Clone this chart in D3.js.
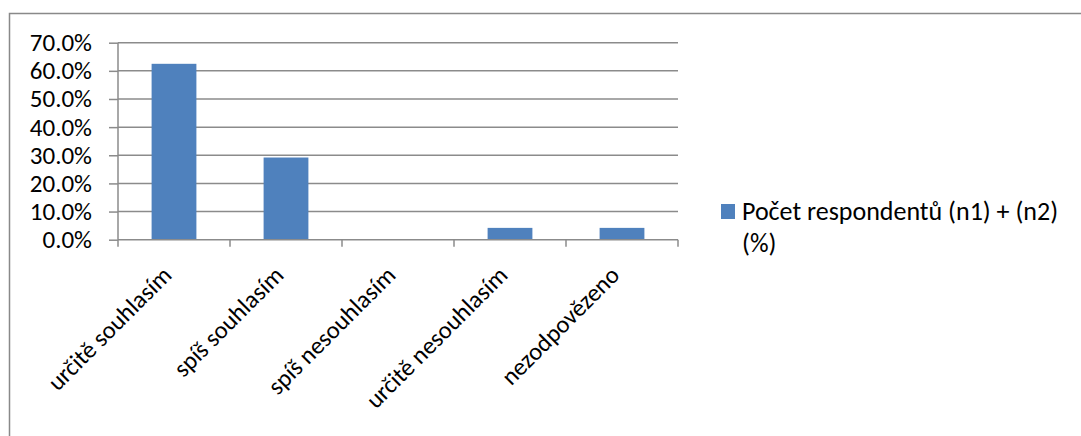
<!DOCTYPE html>
<html>
<head>
<meta charset="utf-8">
<script src="https://cdn.jsdelivr.net/npm/d3@7"></script>
<style>
  html, body { margin: 0; padding: 0; background: #fff; }
  svg { display: block; }
  text { font-family: Carlito, Calibri, Lato, sans-serif; fill: #000; }
</style>
</head>
<body>
<script>
// Survey answers and share of respondents (%)
const categories = ["určitě souhlasím", "spíš souhlasím", "spíš nesouhlasím", "určitě nesouhlasím", "nezodpovězeno"];
const values = [62.5, 29.2, 0, 4.2, 4.2];
const yTicks = [0, 10, 20, 30, 40, 50, 60, 70];
const seriesName = ["Počet respondentů (n1) + (n2)", "(%)"];

const W = 1081, H = 436;
const svg = d3.select("body").append("svg").attr("width", W).attr("height", H);

svg.append("rect").attr("width", W).attr("height", H).attr("fill", "#fff");

// chart frame (open to the right and bottom)
svg.append("rect")
  .attr("x", 9.5).attr("y", 13.5)
  .attr("width", W + 20).attr("height", H + 20)
  .attr("fill", "none").attr("stroke", "#898989").attr("stroke-width", 1.5);

const x = d3.scaleBand().domain(categories).range([118, 678]).paddingInner(0.6).paddingOuter(0.3);
const xb = d3.scaleBand().domain(categories).range([118, 678]);
const y = d3.scaleLinear().domain([0, 70]).range([239.7, 42.7]);

const grey = "#8b8b8b";

// horizontal gridlines
svg.append("g").selectAll("line").data(yTicks.slice(1)).join("line")
  .attr("x1", 118).attr("x2", 678)
  .attr("y1", d => y(d)).attr("y2", d => y(d))
  .attr("stroke", grey).attr("stroke-width", 1.5);

// bars
svg.append("g").selectAll("rect").data(values).join("rect")
  .attr("x", (d, i) => x(categories[i]))
  .attr("width", x.bandwidth())
  .attr("y", d => y(d))
  .attr("height", d => y(0) - y(d))
  .attr("fill", "#4f81bd");

// y axis
const yAxis = svg.append("g").attr("transform", "translate(118,0)")
  .call(d3.axisLeft(y).tickValues(yTicks).tickSize(9).tickPadding(17)
    .tickFormat(d => d3.format(".1f")(d) + "%"));
yAxis.select(".domain").attr("stroke", grey).attr("stroke-width", 1.5).attr("d", `M0,${y(70)}V${y(0)}`);
yAxis.selectAll(".tick line").attr("stroke", grey).attr("stroke-width", 1.5);
yAxis.selectAll(".tick text").attr("font-size", 25).attr("font-family", "Carlito, Calibri, Lato, sans-serif").attr("fill", "#000");

// x axis with boundary ticks
const xAxisG = svg.append("g");
xAxisG.append("line").attr("x1", 118).attr("x2", 678).attr("y1", y(0)).attr("y2", y(0))
  .attr("stroke", grey).attr("stroke-width", 1.5);
const bounds = categories.map(c => xb(c)).concat([xb.range()[1]]);
xAxisG.selectAll("line.tk").data(bounds).join("line").attr("class", "tk")
  .attr("x1", d => d).attr("x2", d => d)
  .attr("y1", y(0)).attr("y2", y(0) + 7)
  .attr("stroke", grey).attr("stroke-width", 1.5);

// rotated category labels
xAxisG.selectAll("text").data(categories).join("text")
  .attr("transform", d => `translate(${xb(d) + xb.bandwidth() / 2 - 1},${y(0) + 37}) rotate(-45)`)
  .attr("text-anchor", "end")
  .attr("font-size", 24.5)
  .text(d => d);

// legend
const lg = svg.append("g");
lg.append("rect").attr("x", 721).attr("y", 204).attr("width", 14).attr("height", 15).attr("fill", "#4f81bd");
lg.selectAll("text").data(seriesName).join("text")
  .attr("x", 742).attr("y", (d, i) => 220 + i * 32)
  .attr("font-size", 26)
  .text(d => d);
</script>
</body>
</html>
